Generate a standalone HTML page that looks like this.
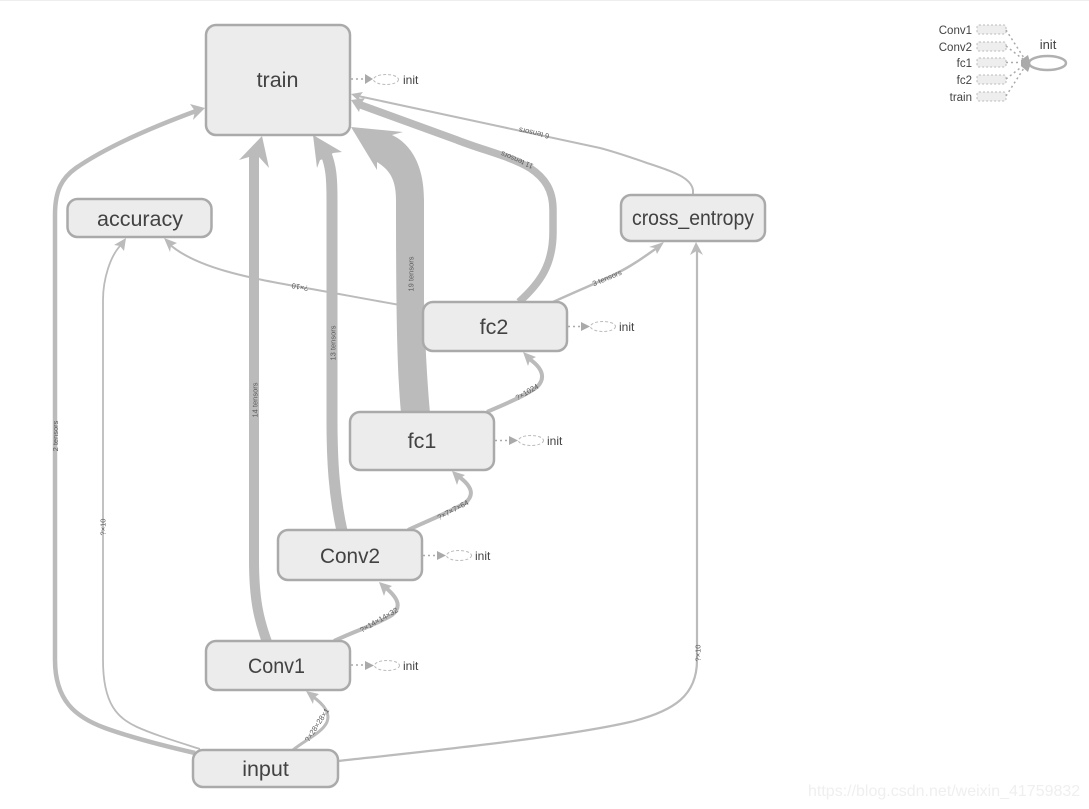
<!DOCTYPE html>
<html><head><meta charset="utf-8">
<style>
html,body{margin:0;padding:0;background:#fff;width:1089px;height:809px;overflow:hidden}
svg{display:block}
text{font-family:"Liberation Sans",sans-serif}
.n{fill:#ececec;stroke:#aaa;stroke-width:2.5}
.t{fill:#424242;font-size:21.5px;text-anchor:middle}
.e{fill:none;stroke:#bbb}
.a{fill:#bbb;stroke:none}
.l{fill:#5c5c5c;font-size:7.5px;text-anchor:middle}
.d{stroke:#aaa;stroke-width:1.5;stroke-dasharray:2 3;fill:none}
.i{fill:#424242;font-size:12px}
.o{fill:#fff;stroke:#bbb;stroke-width:1;stroke-dasharray:3 2}
.lg{fill:#424242;font-size:11.5px;text-anchor:end}
.b{fill:#eee;stroke:#bbb;stroke-width:1;stroke-dasharray:2 2}
</style></head><body>
<svg width="1089" height="809" viewBox="0 0 1089 809" xmlns="http://www.w3.org/2000/svg">
<line x1="0" y1="0.5" x2="1089" y2="0.5" stroke="#eee"/>

<!-- thick fc1 to train -->
<path class="a" d="M351,127 L403,132 L392,135 C407,142 424,160 424,200 L424,300 C425,340 427,380 430,413 L401,413 C397,370 396,310 396,200 C396,180 390,170 377,162 L377,170 Z"/>
<!-- Conv2 to train -->
<path class="e" stroke-width="11" d="M342,531 C334,495 332,460 332,420 L332,200 C332,178 331,166 326,154"/>
<polygon class="a" points="313,135 342,152 333,153 327,158 320,160 317,168"/>
<!-- Conv1 to train -->
<path class="e" stroke-width="10" d="M267,642 C259,620 254,600 254,560 L254,150"/>
<polygon class="a" points="262,136 269,168 259,157 249,157 239,160"/>
<!-- input to train -->
<path class="e" stroke-width="4.500" d="M195,753 C160,745 130,737 105,728 C75,717 55,700 55,660 L55,215 C55,190 62,178 76,168 C105,148 150,128 196,111"/>
<polygon class="a" points="205,108 193,120 195,111 190,104"/>
<!-- input to accuracy -->
<path class="e" stroke-width="1.800" d="M200,749 C175,741 155,735 137,727 C118,718 103,705 103,660 L103,300 C103,280 110,255 122,244"/>
<polygon class="a" points="126,238 124,251 120,246 114,245"/>
<!-- input to cross_entropy -->
<path class="e" stroke-width="2.200" d="M338,761 C420,752 560,738 630,722 C675,711 697,695 697,660 L697,250"/>
<polygon class="a" points="696,242 703,255 696.500,251 690,255"/>
<!-- fc2 to accuracy -->
<path class="e" stroke-width="2" d="M423,309 C370,300 335,293 300,287 C250,278 195,268 168,243"/>
<polygon class="a" points="164,238 177,243 171,246 170,252"/>
<!-- cross_entropy to train -->
<path class="e" stroke-width="2" d="M693,195 L693,190 C691,178 675,172 647,163 C630,157 615,152 600,148 L358,96"/>
<polygon class="a" points="351,94 363,92 359,97 361,103"/>
<!-- fc2 to train -->
<path class="e" stroke-width="7.500" d="M519,302 C540,283 553,265 553,232 L553,210 C553,190 545,178 530,168 C510,156 482,150 457,140 L358,104"/>
<polygon class="a" points="351,100 365,98 361,104 359,112"/>
<!-- fc2 to cross_entropy -->
<path class="e" stroke-width="2.500" d="M553,302 C590,285 610,278 630,266 C642,259 652,251 660,246"/>
<polygon class="a" points="664,242 657,254 655,248 649,247"/>
<!-- fc1 to fc2 -->
<path class="e" stroke-width="4" d="M487,412 C505,404 525,396 537,387 C546,378 543,368 528,358"/>
<polygon class="a" points="523,352 536,357 530,360 528,366"/>
<!-- Conv2 to fc1 -->
<path class="e" stroke-width="4" d="M408,530 C425,522 450,512 465,503 C475,495 472,486 458,476"/>
<polygon class="a" points="452,471 465,475 459,479 457,485"/>
<!-- Conv1 to Conv2 -->
<path class="e" stroke-width="4" d="M334,641 C355,631 380,623 392,615 C402,607 398,598 386,588"/>
<polygon class="a" points="379,582 392,586 386,590 384,596"/>
<!-- input to Conv1 -->
<path class="e" stroke-width="3" d="M293,750 C305,740 322,733 327,722 C331,712 322,703 312,696"/>
<polygon class="a" points="306,691 319,694 314,698 313,704"/>

<!-- edge labels -->
<text class="l" transform="translate(55.500,436) rotate(-90)" dy="2.500">2 tensors</text>
<text class="l" transform="translate(103,527) rotate(-90)" dy="2.500">?×10</text>
<text class="l" transform="translate(255,400) rotate(-90)" dy="2.500">14 tensors</text>
<text class="l" transform="translate(333,343) rotate(-90)" dy="2.500">13 tensors</text>
<text class="l" transform="translate(411,274) rotate(-90)" dy="2.500">19 tensors</text>
<text class="l" transform="translate(698,653) rotate(-90)" dy="2.500">?×10</text>
<text class="l" transform="translate(300,287) rotate(190)" dy="2.500">?×10</text>
<text class="l" transform="translate(517,160) rotate(203)" dy="2.500">11 tensors</text>
<text class="l" transform="translate(534,133) rotate(192)" dy="2.500">6 tensors</text>
<text class="l" transform="translate(607,278) rotate(-23)" dy="2.500">3 tensors</text>
<text class="l" transform="translate(527,392) rotate(-30)" dy="2.500">?×1024</text>
<text class="l" transform="translate(453,510) rotate(-28)" dy="2.500">?×7×7×64</text>
<text class="l" transform="translate(379,620) rotate(-30)" dy="2.500">?×14×14×32</text>
<text class="l" transform="translate(317,725) rotate(-57)" dy="2.500">?×28×28×1</text>

<!-- nodes -->
<rect class="n" x="206" y="25" width="144" height="110" rx="10"/>
<text class="t" x="277.500" y="87">train</text>
<rect class="n" x="67.500" y="199" width="144" height="38" rx="10"/>
<text class="t" x="140" y="226" textLength="86" lengthAdjust="spacingAndGlyphs">accuracy</text>
<rect class="n" x="621" y="195" width="144" height="46" rx="10"/>
<text class="t" x="693" y="225" textLength="122" lengthAdjust="spacingAndGlyphs">cross_entropy</text>
<rect class="n" x="423" y="302" width="144" height="49" rx="10"/>
<text class="t" x="494" y="334">fc2</text>
<rect class="n" x="350" y="412" width="144" height="58" rx="10"/>
<text class="t" x="422" y="448">fc1</text>
<rect class="n" x="278" y="530" width="144" height="50" rx="10"/>
<text class="t" x="350" y="563" textLength="60" lengthAdjust="spacingAndGlyphs">Conv2</text>
<rect class="n" x="206" y="641" width="144" height="49" rx="10"/>
<text class="t" x="276.500" y="673" textLength="57" lengthAdjust="spacingAndGlyphs">Conv1</text>
<rect class="n" x="193" y="750" width="145" height="37" rx="10"/>
<text class="t" x="265.500" y="776">input</text>

<!-- init stubs -->
<g><line class="d" x1="351" y1="79" x2="365" y2="79"/><polygon points="365,74 373,79 365,84" fill="#aaa"/><ellipse class="o" cx="386" cy="79.500" rx="12.500" ry="5"/><text class="i" x="403" y="84">init</text></g>
<g><line class="d" x1="568" y1="326.500" x2="581" y2="326.500"/><polygon points="581,322 590,326.500 581,331" fill="#aaa"/><ellipse class="o" cx="603" cy="326.500" rx="12.500" ry="5"/><text class="i" x="619" y="331">init</text></g>
<g><line class="d" x1="495" y1="440.500" x2="509" y2="440.500"/><polygon points="509,436 518,440.500 509,445" fill="#aaa"/><ellipse class="o" cx="531" cy="440.500" rx="12.500" ry="5"/><text class="i" x="547" y="445">init</text></g>
<g><line class="d" x1="423" y1="555.500" x2="437" y2="555.500"/><polygon points="437,551 446,555.500 437,560" fill="#aaa"/><ellipse class="o" cx="459" cy="555.500" rx="12.500" ry="5"/><text class="i" x="475" y="560">init</text></g>
<g><line class="d" x1="351" y1="665" x2="365" y2="665"/><polygon points="365,661 374,665.500 365,670" fill="#aaa"/><ellipse class="o" cx="387" cy="665.500" rx="12.500" ry="5"/><text class="i" x="403" y="670">init</text></g>

<!-- legend -->
<text class="lg" x="972" y="34">Conv1</text>
<text class="lg" x="972" y="51">Conv2</text>
<text class="lg" x="972" y="67">fc1</text>
<text class="lg" x="972" y="84">fc2</text>
<text class="lg" x="972" y="101">train</text>
<rect class="b" x="977" y="25" width="29" height="9" rx="2"/>
<rect class="b" x="977" y="42" width="29" height="9" rx="2"/>
<rect class="b" x="977" y="58" width="29" height="9" rx="2"/>
<rect class="b" x="977" y="75" width="29" height="9" rx="2"/>
<rect class="b" x="977" y="92" width="29" height="9" rx="2"/>
<line class="d" x1="1006" y1="30" x2="1024" y2="58"/>
<line class="d" x1="1006" y1="46" x2="1024" y2="60"/>
<line class="d" x1="1006" y1="62.500" x2="1022" y2="62.500"/>
<line class="d" x1="1006" y1="79" x2="1024" y2="65"/>
<line class="d" x1="1006" y1="96" x2="1024" y2="68"/>
<ellipse cx="1047.500" cy="63" rx="18.500" ry="7" fill="#fff" stroke="#b0b0b0" stroke-width="2.500"/>
<path d="M1021,60 L1028,55 L1030,62 L1030,66 L1028,72 L1021,66 Z" fill="#aaa"/>
<text x="1048" y="49" style="font-size:13px;fill:#424242;text-anchor:middle">init</text>

<text x="808" y="796" style="font-size:16px;fill:#efefef">https://blog.csdn.net/weixin_41759832</text>
</svg>
</body></html>
